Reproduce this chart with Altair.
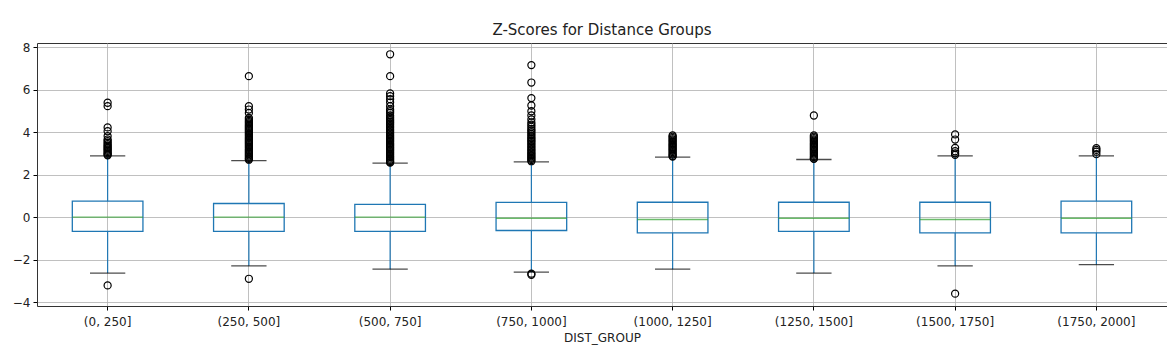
import altair as alt
import pandas as pd

groups = ["(0, 250]", "(250, 500]", "(500, 750]", "(750, 1000]",
          "(1000, 1250]", "(1250, 1500]", "(1500, 1750]", "(1750, 2000]"]
q1 = [-0.67, -0.67, -0.67, -0.63, -0.74, -0.67, -0.74, -0.74]
median = [0.0, 0.0, 0.0, -0.05, -0.11, -0.05, -0.11, -0.05]
q3 = [0.75, 0.64, 0.60, 0.69, 0.70, 0.70, 0.70, 0.75]
whisker_low = [-2.63, -2.29, -2.45, -2.59, -2.45, -2.63, -2.29, -2.23]
whisker_high = [2.88, 2.66, 2.54, 2.60, 2.82, 2.71, 2.88, 2.88]

outliers_g1 = [5.38, 5.22, 4.22, 4.04, 3.81, 3.65, 3.58, 3.50, 3.43, 3.36, 3.30,
               3.24, 3.18, 3.12, 3.06, 3.00, 2.95, 2.91, -3.21]
outliers_g2 = [6.63, 5.22, 5.06, 4.90, 4.67, 4.60, 4.53, 4.47, 4.41, 4.35, 4.29,
               4.23, 4.17, 4.11, 4.05, 3.99, 3.93, 3.87, 3.81, 3.75, 3.69, 3.63,
               3.57, 3.51, 3.45, 3.39, 3.33, 3.27, 3.21, 3.15, 3.09, 3.03, 2.97,
               2.91, 2.85, 2.79, 2.74, 2.70, -2.90]
outliers_g3 = [7.66, 6.63, 5.82, 5.69, 5.55, 5.40, 5.22, 5.06, 4.98, 4.90, 4.78,
               4.70, 4.62, 4.55, 4.48, 4.41, 4.34, 4.27, 4.20, 4.13, 4.06, 3.99,
               3.92, 3.85, 3.78, 3.72, 3.66, 3.60, 3.54, 3.48, 3.42, 3.36, 3.30,
               3.24, 3.18, 3.12, 3.06, 3.00, 2.94, 2.88, 2.82, 2.76, 2.70, 2.64,
               2.59, 2.56]
outliers_g4 = [7.15, 6.33, 5.60, 5.25, 4.98, 4.78, 4.60, 4.45, 4.35, 4.25, 4.15,
               4.07, 3.99, 3.91, 3.83, 3.75, 3.68, 3.61, 3.54, 3.47, 3.40, 3.33,
               3.26, 3.19, 3.12, 3.05, 2.98, 2.92, 2.86, 2.80, 2.74, 2.68, 2.63,
               -2.66, -2.71]
outliers_g5 = [3.84, 3.78, 3.72, 3.66, 3.60, 3.54, 3.48, 3.42, 3.36, 3.30, 3.24,
               3.18, 3.12, 3.06, 3.00, 2.94, 2.88, 2.85]
outliers_g6 = [4.78, 3.84, 3.78, 3.72, 3.66, 3.60, 3.54, 3.48, 3.42, 3.36, 3.30,
               3.24, 3.18, 3.12, 3.06, 3.00, 2.94, 2.88, 2.82, 2.76, 2.74]
outliers_g7 = [3.89, 3.65, 3.26, 3.10, 3.00, 2.93, -3.60]
outliers_g8 = [3.24, 3.16, 3.08, 2.96]

all_outliers = [outliers_g1, outliers_g2, outliers_g3, outliers_g4,
                outliers_g5, outliers_g6, outliers_g7, outliers_g8]

stats = pd.DataFrame({
    "group": groups, "q1": q1, "median": median, "q3": q3,
    "lo": whisker_low, "hi": whisker_high,
})
pts = pd.DataFrame(
    [{"group": g, "value": v} for g, vals in zip(groups, all_outliers) for v in vals]
)

W, H = 1130, 263
step = W / len(groups)
BLUE = "#1f77b4"

xenc = alt.X("group:N", sort=groups,
             scale=alt.Scale(paddingInner=0, paddingOuter=0),
             axis=alt.Axis(title="DIST_GROUP", labelAngle=0, grid=True,
                           gridColor="#b0b0b0", gridWidth=1, gridOpacity=0.8,
                           domain=False, tickColor="black", tickSize=4,
                           labelFontSize=12, labelColor="#222",
                           titleFontSize=12, titleFontWeight="normal",
                           titleColor="#222", titlePadding=5, labelPadding=6))
yscale = alt.Scale(domain=[-4.18, 8.19], nice=False, zero=False)
yaxis = alt.Axis(title=None, values=[-4, -2, 0, 2, 4, 6, 8], grid=True,
                 gridColor="#b0b0b0", gridWidth=1, gridOpacity=0.8,
                 domain=False, tickColor="black", tickSize=4,
                 labelFontSize=12, labelColor="#222", labelPadding=3)

base = alt.Chart(stats)

whisk_lo = base.mark_rule(color=BLUE, strokeWidth=1.2).encode(
    x=xenc, y=alt.Y("lo:Q", scale=yscale, axis=yaxis), y2="q1:Q")
whisk_hi = base.mark_rule(color=BLUE, strokeWidth=1.2).encode(
    x=alt.X("group:N", sort=groups), y=alt.Y("q3:Q"), y2="hi:Q")
box = base.mark_bar(fill="white", fillOpacity=0, stroke=BLUE, strokeWidth=1.3,
                    width=alt.RelativeBandSize(0.5)).encode(
    x=alt.X("group:N", sort=groups), y=alt.Y("q1:Q"), y2="q3:Q")
med = base.mark_tick(color="#2ca02c", size=step * 0.5, thickness=1.4).encode(
    x=alt.X("group:N", sort=groups), y=alt.Y("median:Q"))
cap_lo = base.mark_tick(color="black", size=step * 0.25, thickness=1.3).encode(
    x=alt.X("group:N", sort=groups), y=alt.Y("lo:Q"))
cap_hi = base.mark_tick(color="black", size=step * 0.25, thickness=1.3).encode(
    x=alt.X("group:N", sort=groups), y=alt.Y("hi:Q"))
outl = alt.Chart(pts).mark_point(shape="circle", filled=False, color="black",
                                 strokeWidth=1.2, size=50, opacity=1).encode(
    x=alt.X("group:N", sort=groups), y=alt.Y("value:Q"))

chart = alt.layer(whisk_lo, whisk_hi, box, med, cap_lo, cap_hi, outl).properties(
    width=W, height=H,
    title=alt.Title("Z-Scores for Distance Groups", fontSize=15,
                    fontWeight="normal", color="#222", offset=3),
    autosize=alt.AutoSizeParams(type="none"),
    padding={"left": 29, "top": 35, "right": 0, "bottom": 44},
).configure(font="DejaVu Sans").configure_view(
    stroke="#333", strokeWidth=1)

chart.save("out.html", embed_options={"renderer": "svg", "actions": False})
